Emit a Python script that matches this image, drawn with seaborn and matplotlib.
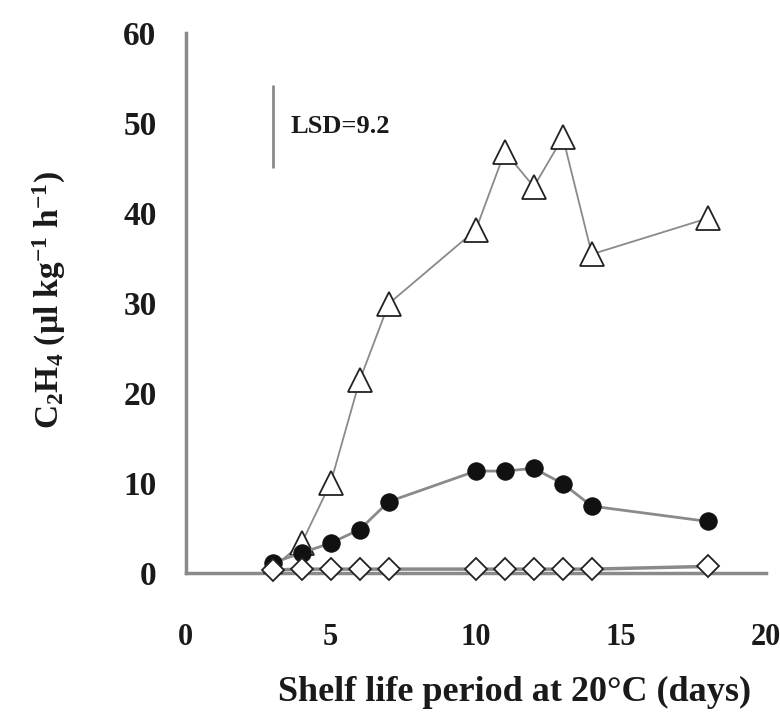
import matplotlib
matplotlib.use("Agg")
import matplotlib.pyplot as plt
import seaborn as sns
import pandas as pd

days_tri = [3, 4, 5, 6, 7, 10, 11, 12, 13, 14, 18]
c2h4_tri = [0.5, 3.3, 10.0, 21.4, 29.9, 38.1, 46.8, 42.9, 48.4, 35.4, 39.4]

days_circ = [3, 4, 5, 6, 7, 10, 11, 12, 13, 14, 18]
c2h4_circ = [1.1, 2.2, 3.3, 4.8, 7.9, 11.3, 11.3, 11.6, 9.9, 7.4, 5.7]

days_diam = [3, 4, 5, 6, 7, 10, 11, 12, 13, 14, 18]
c2h4_diam = [0.3, 0.4, 0.4, 0.4, 0.4, 0.4, 0.4, 0.4, 0.4, 0.4, 0.7]

lsd_value = 9.2
lsd_x = 3.0
lsd_bottom = 45.0

x_ticks = [0, 5, 10, 15, 20]
y_ticks = [0, 10, 20, 30, 40, 50, 60]

sns.set_style("white")
plt.rcParams['font.family'] = ['Liberation Serif', 'DejaVu Serif']
plt.rcParams['font.weight'] = 'bold'
plt.rcParams['mathtext.fontset'] = 'custom'
plt.rcParams['mathtext.rm'] = 'Liberation Serif:bold'
plt.rcParams['mathtext.it'] = 'Liberation Serif:italic:bold'
plt.rcParams['mathtext.bf'] = 'Liberation Serif:bold'

fig = plt.figure(figsize=(7.8, 7.15), dpi=100)
ax = fig.add_axes([0.238, 0.199, 0.744, 0.755])

line_col = '#8a8a8a'
text_col = '#1a1a1a'

sns.lineplot(x=days_tri, y=c2h4_tri, ax=ax, color=line_col, lw=1.3,
             marker='^', markersize=17, markerfacecolor='white',
             markeredgecolor='#222222', markeredgewidth=1.3, zorder=3)
sns.lineplot(x=days_circ, y=c2h4_circ, ax=ax, color=line_col, lw=2.0,
             marker='o', markersize=12.5, markerfacecolor='#111111',
             markeredgecolor='#111111', zorder=4)
sns.lineplot(x=days_diam, y=c2h4_diam, ax=ax, color=line_col, lw=2.5,
             marker='D', markersize=11, markerfacecolor='white',
             markeredgecolor='#222222', markeredgewidth=1.3, zorder=5, clip_on=False)

ax.vlines(lsd_x, lsd_bottom, lsd_bottom + lsd_value, color=line_col, lw=2)
ax.text(lsd_x + 0.6, lsd_bottom + lsd_value / 2, f"LSD={lsd_value}",
        fontsize=19, fontweight='bold', va='center', ha='left', color=text_col)

ax.set_xlim(0, 20)
ax.set_ylim(0, 60)
ax.set_xticks(x_ticks)
ax.set_yticks(y_ticks)
ax.tick_params(axis='both', direction='in', length=6, width=1.2, color=line_col,
               labelsize=24, labelcolor=text_col)
ax.tick_params(axis='x', pad=36, labelsize=22)
ax.tick_params(axis='y', pad=21)
for lab in ax.get_xticklabels() + ax.get_yticklabels():
    lab.set_fontweight('bold')

for side in ['top', 'right']:
    ax.spines[side].set_visible(False)
for side in ['left', 'bottom']:
    ax.spines[side].set_color(line_col)
    ax.spines[side].set_linewidth(2.5)

ax.set_xlabel("Shelf life period at 20°C (days)", fontsize=26, fontweight='bold',
              color=text_col)
ax.set_ylabel(r"C$_{2}$H$_{4}$ (µl kg$^{-1}$ h$^{-1}$)", fontsize=24,
              fontweight='bold', color=text_col)
ax.xaxis.label.set_va('center')
ax.yaxis.label.set_va('center')
ax.xaxis.set_label_coords(0.567, -0.222)
ax.yaxis.set_label_coords(-0.235, 0.505)

fig.savefig("out.png", dpi=100)
